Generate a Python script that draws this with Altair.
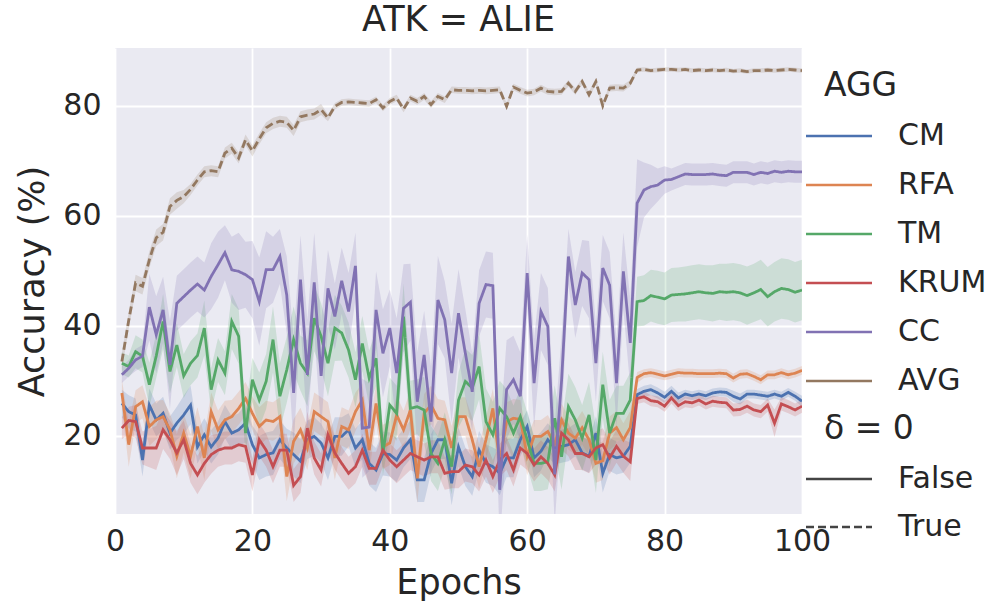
import altair as alt
import pandas as pd

epochs = list(range(1, 101))
aggs = ["CM", "RFA", "TM", "KRUM", "CC", "AVG"]
colors = ["#4c72b0", "#dd8452", "#55a868", "#c44e52", "#8172b3", "#937860"]
delta_of = {"CM": "False", "RFA": "False", "TM": "False", "KRUM": "False", "CC": "False", "AVG": "True"}

cm = [25.9, 24.4, 23.8, 15.6, 25.6, 22.9, 24.1, 20.5, 22.3, 23.8,
      25.6, 18.0, 20.2, 18.0, 19.6, 22.6, 20.5, 21.1, 22.3, 18.4,
      16.0, 16.6, 16.9, 19.3, 17.8, 16.6, 15.4, 19.3, 19.9, 18.7,
      16.0, 19.9, 19.9, 21.1, 17.8, 19.3, 15.0, 13.8, 16.8, 16.6,
      15.6, 17.8, 19.3, 12.0, 12.0, 16.8, 19.3, 19.3, 11.4, 18.0,
      14.4, 12.6, 17.4, 15.0, 14.4, 13.2, 16.0, 16.0, 19.3, 21.7,
      16.0, 17.2, 19.3, 17.8, 18.1, 18.4, 19.3, 16.9, 16.3, 20.5,
      13.2, 16.6, 16.0, 16.3, 18.1, 27.5, 28.1, 28.4, 27.8, 27.0,
      28.1, 26.9, 27.6, 27.3, 27.6, 27.3, 27.8, 28.0, 27.9, 27.2,
      26.7, 27.6, 27.6, 27.4, 27.2, 27.6, 27.2, 27.9, 27.2, 26.3]
rfa = [27.8, 18.4, 25.3, 26.2, 21.7, 22.9, 23.5, 21.1, 16.3, 20.5,
       16.3, 21.7, 16.0, 24.4, 21.1, 22.9, 23.5, 25.0, 26.8, 24.1,
       21.7, 22.9, 22.6, 23.5, 12.6, 19.0, 21.1, 17.8, 24.4, 23.5,
       22.6, 16.0, 21.7, 21.1, 24.4, 26.5, 17.4, 25.9, 18.0, 18.7,
       23.8, 21.1, 24.7, 12.3, 24.1, 25.6, 23.2, 22.9, 17.8, 23.5,
       23.5, 19.3, 14.4, 19.3, 25.0, 15.3, 22.6, 23.2, 23.0, 16.3,
       19.9, 19.9, 20.8, 18.5, 22.9, 20.5, 19.6, 21.5, 19.3, 15.0,
       15.5, 20.5, 21.5, 19.3, 21.5, 30.6, 31.3, 31.5, 31.2, 30.9,
       31.2, 31.5, 31.4, 31.4, 31.3, 31.3, 31.3, 31.4, 31.3, 30.5,
       31.2, 31.3, 30.8, 30.2, 31.1, 31.1, 31.5, 31.1, 31.4, 31.9]
tm = [33.2, 32.6, 35.3, 34.5, 29.3, 34.5, 40.8, 31.7, 36.5, 30.9,
      33.2, 34.6, 39.6, 28.4, 33.8, 31.4, 40.8, 38.1, 20.5, 30.2,
      26.5, 29.9, 37.5, 27.2, 32.0, 37.5, 33.2, 31.4, 41.4, 38.1,
      33.2, 39.6, 38.7, 35.6, 30.2, 36.8, 30.5, 34.1, 16.8, 25.6,
      24.1, 41.7, 25.0, 25.3, 24.7, 16.8, 15.0, 19.3, 14.4, 26.5,
      29.9, 28.7, 32.6, 22.6, 20.2, 25.0, 23.5, 20.5, 23.5, 19.3,
      15.0, 15.0, 15.3, 23.2, 16.2, 25.3, 22.9, 19.6, 23.8, 15.6,
      29.3, 20.5, 24.1, 24.1, 26.5, 44.4, 44.6, 45.5, 45.2, 44.9,
      45.6, 45.7, 45.8, 46.0, 46.2, 46.0, 45.9, 46.2, 46.1, 46.2,
      46.0, 45.5, 46.0, 46.6, 45.3, 46.2, 46.8, 46.6, 46.1, 46.5]
krum = [21.4, 22.8, 22.6, 17.8, 17.8, 17.8, 21.1, 19.3, 16.9, 19.3,
        15.0, 12.9, 15.0, 16.6, 17.4, 17.8, 17.8, 18.4, 18.1, 12.9,
        19.3, 17.4, 14.4, 17.4, 17.4, 11.0, 12.6, 21.4, 16.0, 13.8,
        20.2, 16.9, 15.0, 13.2, 14.4, 17.4, 14.1, 14.1, 17.4, 15.6,
        14.4, 15.6, 16.8, 16.2, 15.6, 16.2, 16.2, 13.2, 13.5, 13.5,
        14.7, 14.4, 12.9, 15.6, 12.6, 15.6, 16.8, 13.8, 17.8, 16.8,
        14.7, 16.2, 15.0, 12.9, 20.5, 19.3, 16.8, 16.8, 16.2, 17.8,
        18.4, 16.0, 18.1, 16.3, 15.3, 26.8, 27.1, 26.4, 26.2, 25.4,
        26.9, 25.5, 26.2, 26.0, 26.5, 25.8, 26.3, 26.1, 26.0, 24.7,
        24.8, 25.4, 24.7, 24.4, 25.6, 22.3, 25.8, 25.3, 24.7, 25.4]
cc = [31.1, 32.3, 33.8, 34.5, 43.4, 38.4, 42.9, 32.9, 44.1, 45.3,
      46.5, 47.6, 46.5, 49.0, 51.1, 53.3, 50.2, 49.9, 49.3, 48.4,
      44.4, 50.2, 50.2, 52.6, 45.6, 27.8, 48.4, 31.1, 47.9, 30.9,
      46.8, 41.7, 48.2, 42.6, 50.9, 21.4, 21.6, 42.9, 35.0, 39.6,
      31.4, 43.2, 44.3, 26.2, 34.7, 22.6, 44.7, 41.1, 31.4, 42.3,
      35.0, 28.0, 44.1, 47.5, 47.3, 10.2, 28.4, 30.2, 27.2, 49.6,
      29.6, 42.6, 39.9, 13.0, 30.0, 52.6, 43.8, 49.6, 48.4, 33.2,
      50.5, 47.4, 29.6, 49.9, 36.9, 62.3, 64.7, 65.3, 65.6, 66.5,
      66.6, 67.1, 67.6, 67.5, 67.5, 67.5, 67.6, 67.4, 67.3, 67.9,
      67.9, 67.9, 67.5, 67.9, 67.7, 68.1, 67.9, 68.1, 68.0, 68.0]
avg = [33.5, 41.0, 47.8, 47.2, 52.0, 56.0, 57.0, 61.7, 62.8, 63.5,
       64.8, 66.5, 68.0, 68.2, 68.0, 71.4, 72.3, 70.5, 73.8, 71.8,
       74.0, 76.0, 76.8, 77.2, 77.0, 75.5, 78.0, 78.3, 78.5, 79.3,
       77.8, 79.9, 80.6, 80.7, 80.6, 80.5, 80.4, 81.1, 79.6, 80.8,
       81.4, 79.4, 81.4, 80.8, 81.7, 80.2, 81.7, 81.1, 82.9, 82.8,
       82.8, 82.7, 82.8, 82.7, 82.8, 82.9, 79.9, 83.4, 82.8, 82.3,
       82.5, 83.2, 82.6, 82.5, 82.6, 84.1, 82.6, 84.4, 82.0, 84.4,
       80.0, 83.2, 83.3, 83.2, 84.1, 86.5, 86.6, 86.4, 86.5, 86.6,
       86.6, 86.5, 86.6, 86.4, 86.5, 86.4, 86.5, 86.4, 86.5, 86.3,
       86.4, 86.2, 86.4, 86.4, 86.5, 86.4, 86.5, 86.6, 86.5, 86.4]

# confidence band half-widths
cm_err = [2.5, 3, 3, 3, 3, 3, 3, 3, 3, 3.5,
          3.5, 3, 3, 3, 3, 3, 3, 3, 3.5, 3.5,
          4, 4, 4, 3.5, 3.5, 4, 4, 3.5, 3.5, 3.5,
          4, 3.5, 3.5, 3, 3.5, 3.5, 4, 4, 4, 4,
          4, 3.5, 3.5, 4, 4, 3.5, 3.5, 3.5, 4, 3.5,
          3.5, 3.5, 3.5, 3.5, 3.5, 4, 3.5, 3.5, 3, 3,
          3.5, 3.5, 3, 3, 3, 3, 3, 3, 3, 3,
          3.5, 3, 3, 3, 3, 1, 1, 1, 1, 1,
          1, 1, 0.8, 0.8, 0.8, 0.8, 0.8, 0.8, 0.8, 1,
          1, 0.8, 0.8, 0.8, 0.8, 0.8, 0.8, 0.8, 0.8, 1]
rfa_err = [2.5, 4, 3, 3, 3.5, 3.5, 3, 3, 4, 3.5,
           4, 3.5, 4, 3.5, 3.5, 3.5, 3, 3, 3, 3,
           3.5, 3.5, 3.5, 3.5, 4.5, 4, 4, 4, 3.5, 3.5,
           3.5, 4, 3.5, 3.5, 3.5, 3, 4, 3.5, 4, 4,
           3.5, 3.5, 3.5, 4.5, 3.5, 3.5, 3.5, 3.5, 4, 3.5,
           3.5, 4, 4, 4, 3.5, 4, 3.5, 3.5, 3.5, 3.5,
           3, 3, 3, 3, 3, 3, 3, 3, 3, 3.5,
           3.5, 3, 3, 3, 3, 1, 0.8, 0.8, 0.8, 0.8,
           0.8, 0.8, 0.8, 0.8, 0.8, 0.8, 0.8, 0.8, 0.8, 0.8,
           0.8, 0.8, 0.8, 0.8, 0.8, 0.8, 0.8, 0.8, 0.8, 0.8]
tm_err = [2, 2, 3, 3, 4, 4, 5, 4, 4, 4,
          4, 4, 5, 4, 4, 4, 5, 5, 4, 4,
          5, 5, 6, 6, 6, 6, 5, 6, 6, 6,
          6, 6, 5, 5, 5, 5, 5, 5, 4, 5,
          5, 6, 5, 5, 6, 5, 5, 5, 5, 5,
          6, 6, 6, 6, 6, 5, 5, 5, 5, 5,
          5, 5, 5, 6, 6, 6, 6, 6, 6, 6,
          6, 6, 5, 5, 5, 4.5, 4.6, 4.7, 4.8, 4.8,
          4.9, 4.9, 5, 5, 5, 5, 5.1, 5.1, 5.2, 5.2,
          5.2, 5.3, 5.3, 5.4, 5.4, 5.4, 5.5, 5.5, 5.5, 5.5]
krum_err = [2, 2.5, 3, 3, 3.5, 4, 3.5, 3.5, 4, 3.5,
            3.5, 3.5, 3.5, 3.5, 3, 3, 3, 3, 3, 3,
            3, 3, 3, 3, 3, 3, 3, 3, 3, 3,
            3, 3, 3, 3, 3, 3, 3, 3, 3, 3,
            3, 3, 3, 3, 3, 3, 3, 3, 3, 3,
            3, 3, 3, 3, 3, 3, 3, 3, 3, 3,
            3, 3, 3, 3, 3, 3, 3, 3, 3, 3,
            3, 3, 3, 3, 3.5, 1, 1, 1, 1, 1,
            1, 1, 1, 1, 1, 1, 1, 1, 1, 1.2,
            1.2, 1.2, 1.2, 1.2, 1.2, 2.5, 1.2, 1.2, 1.2, 1.2]
cc_err = [1.5, 1.5, 2, 2, 6, 7, 6, 8, 5, 5,
          5, 5, 5, 6, 6, 5, 6, 7, 6, 7,
          8, 7, 6, 5, 7, 10, 8, 10, 9, 10,
          7, 6, 6, 7, 6, 9, 8, 7, 8, 7,
          10, 8, 7, 9, 8, 10, 8, 7, 9, 8,
          8, 7, 6, 6, 6, 10, 9, 8, 8, 7,
          8, 7, 7, 9, 8, 5, 6, 6, 7, 7,
          6, 6, 8, 7, 8, 8, 5, 4, 3, 2.5,
          2, 2, 2, 2, 2, 2, 2, 2, 2, 2,
          2, 2, 2, 2, 2, 2, 2, 2, 2, 2]
avg_err = [1.5, 1.5, 1.5, 1.5, 1.5, 1.5, 1.5, 1.5, 1.5, 1.2,
           1, 1, 1, 1, 1, 1, 1, 1, 1, 1,
           1, 1, 1, 1, 1, 1, 1, 1, 1, 1,
           0.6, 0.6, 0.6, 0.6, 0.6, 0.6, 0.6, 0.6, 0.6, 0.6,
           0.6, 0.6, 0.6, 0.6, 0.6, 0.6, 0.6, 0.6, 0.6, 0.6,
           0.6, 0.6, 0.6, 0.6, 0.6, 0.6, 0.6, 0.6, 0.6, 0.6,
           0.6, 0.6, 0.6, 0.6, 0.6, 0.6, 0.6, 0.6, 0.6, 0.6,
           0.6, 0.6, 0.6, 0.6, 0.6, 0.4, 0.4, 0.4, 0.4, 0.4,
           0.4, 0.4, 0.4, 0.4, 0.4, 0.4, 0.4, 0.4, 0.4, 0.4,
           0.4, 0.4, 0.4, 0.4, 0.4, 0.4, 0.4, 0.4, 0.4, 0.4]

series = {"CM": (cm, cm_err), "RFA": (rfa, rfa_err), "TM": (tm, tm_err),
          "KRUM": (krum, krum_err), "CC": (cc, cc_err), "AVG": (avg, avg_err)}

rows = []
for name in aggs:
    vals, errs = series[name]
    for e, v, d in zip(epochs, vals, errs):
        rows.append({"epoch": e, "acc": v, "lo": v - d, "hi": v + d,
                     "AGG": name, "delta": delta_of[name]})
df = pd.DataFrame(rows)

FONT = "DejaVu Sans"
TXT = "#262626"
NB = "\u00a0"

xs = alt.X("epoch:Q", scale=alt.Scale(domain=[0, 100], nice=False),
           axis=alt.Axis(values=[0, 20, 40, 60, 80, 100], title="Epochs", labelFlush=False))
ys = alt.Y("acc:Q", scale=alt.Scale(domain=[5.8, 90.5], nice=False, zero=False),
           axis=alt.Axis(values=[20, 40, 60, 80], title="Accuracy (%)"))

# one band layer per series, coloured directly (no legend involvement)
bands = [
    alt.Chart(df).transform_filter(alt.datum.AGG == name)
    .mark_area(opacity=0.2, clip=True, color=col, strokeWidth=0)
    .encode(x="epoch:Q", y="lo:Q", y2="hi:Q")
    for name, col in zip(aggs, colors)
]

lines = alt.Chart(df).mark_line(strokeWidth=2.8, clip=True).encode(
    x=xs,
    y=ys,
    color=alt.Color("AGG:N", scale=alt.Scale(domain=aggs, range=colors),
                    legend=alt.Legend(title=NB + NB + "AGG", orient="none", legendX=709, legendY=22,
                                      titleFontSize=33, labelFontSize=30,
                                      titleFont=FONT, labelFont=FONT,
                                      titleColor=TXT, labelColor=TXT,
                                      titleFontWeight="normal", titleAnchor="start",
                                      titlePadding=18, rowPadding=19,
                                      symbolType="M-3,0H3", symbolSize=484,
                                      symbolStrokeWidth=2.5, labelOffset=44)),
    strokeDash=alt.StrokeDash("delta:N",
                              scale=alt.Scale(range=[[1, 0], [8, 4]]),
                              legend=alt.Legend(title=NB + NB + "δ = 0", orient="none", legendX=709, legendY=365,
                                                titleFontSize=33, labelFontSize=30,
                                                titleFont=FONT, labelFont=FONT,
                                                titleColor=TXT, labelColor=TXT,
                                                titleFontWeight="normal", titleAnchor="start",
                                                titlePadding=18, rowPadding=18,
                                                symbolType="M-3,0H3", symbolSize=484,
                                                symbolStrokeWidth=2.5, labelOffset=44,
                                                symbolStrokeColor="#444444")),
)

chart = alt.layer(*bands, lines).properties(
    width=687, height=466,
    title=alt.Title("ATK = ALIE", fontSize=35, font=FONT, color=TXT, fontWeight="normal",
                    anchor="middle", offset=10),
    autosize=alt.AutoSizeParams(type="none"),
    padding={"left": 115, "top": 48, "right": 194, "bottom": 91},
).configure_view(
    fill="#eaeaf2", stroke=None
).configure_axis(
    labelFont=FONT, titleFont=FONT, labelFontSize=30, titleFontSize=35,
    labelColor=TXT, titleColor=TXT, titleFontWeight="normal",
    grid=True, gridColor="white", gridWidth=1.8, domain=False, ticks=False,
).configure_axisX(
    labelPadding=12, titlePadding=9,
).configure_axisY(
    labelPadding=14, titlePadding=12,
)

chart.save("out.html", embed_options={"renderer": "svg", "actions": False})
